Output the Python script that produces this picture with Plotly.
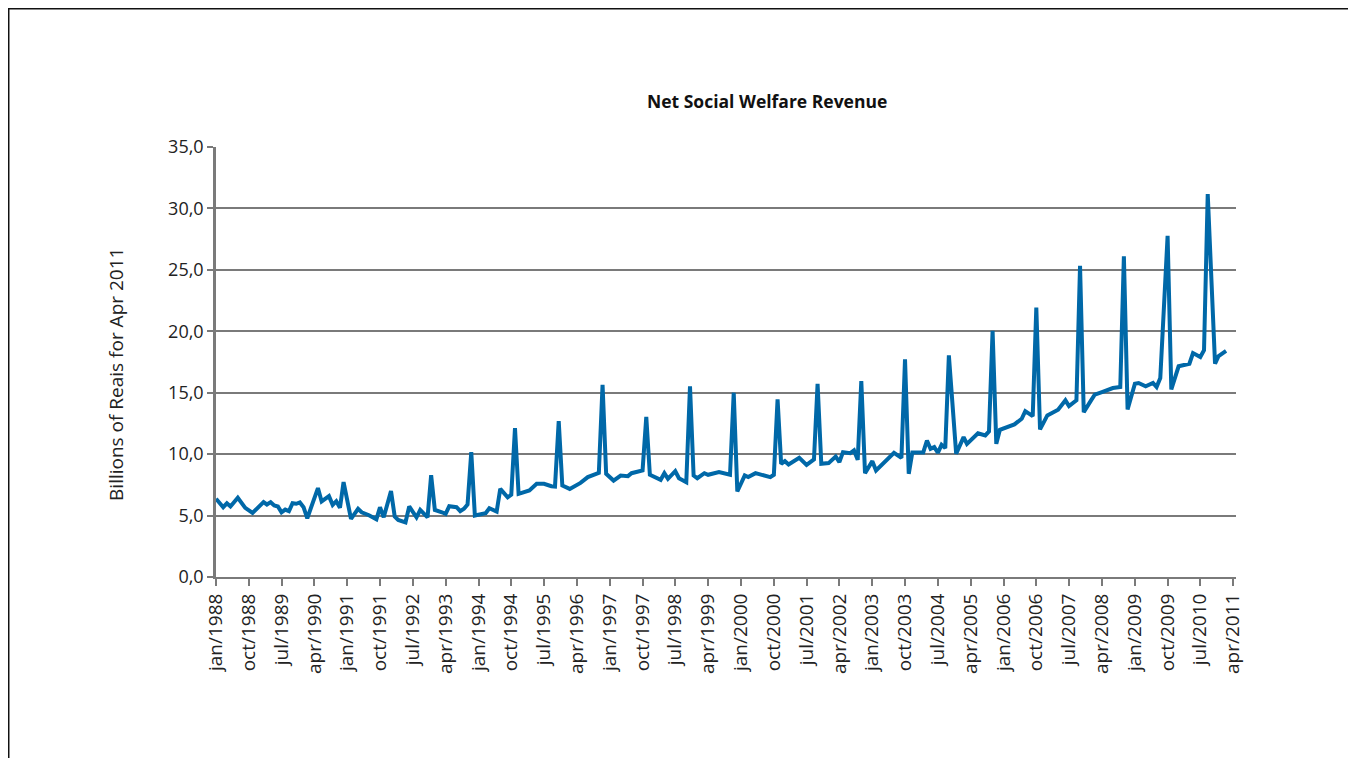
import plotly.graph_objects as go

# Monthly points (vertices)
months = [
    "1988-01", "1988-03", "1988-04", "1988-05", "1988-07", "1988-09", "1988-11",
    "1989-02", "1989-03", "1989-04", "1989-05", "1989-06", "1989-07", "1989-08",
    "1989-09", "1989-10", "1989-11", "1989-12",
    "1990-01", "1990-02", "1990-05", "1990-06", "1990-08", "1990-09", "1990-10",
    "1990-11", "1990-12",
    "1991-02", "1991-04", "1991-05", "1991-07", "1991-09", "1991-10", "1991-11",
    "1992-01", "1992-02", "1992-03", "1992-05", "1992-06", "1992-07", "1992-08",
    "1992-09", "1992-10", "1992-11", "1992-12",
    "1993-01", "1993-03", "1993-04", "1993-05", "1993-07", "1993-08", "1993-09",
    "1993-10", "1993-11", "1993-12",
    "1994-03", "1994-04", "1994-06", "1994-07", "1994-09", "1994-10", "1994-11",
    "1994-12",
    "1995-03", "1995-05", "1995-07", "1995-09", "1995-10", "1995-11", "1995-12",
    "1996-02", "1996-05", "1996-07", "1996-09", "1996-10", "1996-11", "1996-12",
    "1997-02", "1997-04", "1997-06", "1997-07", "1997-10", "1997-11", "1997-12",
    "1998-03", "1998-04", "1998-05", "1998-07", "1998-08", "1998-10", "1998-11",
    "1998-12",
    "1999-01", "1999-03", "1999-04", "1999-07", "1999-10", "1999-11", "1999-12",
    "2000-02", "2000-03", "2000-05", "2000-07", "2000-09", "2000-10", "2000-11",
    "2000-12",
    "2001-01", "2001-02", "2001-05", "2001-07", "2001-09", "2001-10", "2001-11",
    "2002-01", "2002-03", "2002-04", "2002-05", "2002-07", "2002-08", "2002-09",
    "2002-10", "2002-11",
    "2003-01", "2003-02", "2003-07", "2003-09", "2003-10", "2003-11", "2003-12",
    "2004-03", "2004-04", "2004-05", "2004-06", "2004-07", "2004-08", "2004-09",
    "2004-10", "2004-12",
    "2005-02", "2005-03", "2005-06", "2005-08", "2005-09", "2005-10", "2005-11",
    "2005-12",
    "2006-04", "2006-06", "2006-07", "2006-09", "2006-10", "2006-11",
    "2007-01", "2007-04", "2007-06", "2007-07", "2007-09", "2007-10", "2007-11",
    "2008-01", "2008-02", "2008-04", "2008-07", "2008-09", "2008-10", "2008-11",
    "2009-01", "2009-02", "2009-04", "2009-06", "2009-07", "2009-08", "2009-10",
    "2009-11",
    "2010-01", "2010-04", "2010-05", "2010-07", "2010-08", "2010-09", "2010-11",
    "2010-12",
    "2011-02",
]

revenue = [
    6.37, 5.68, 6.00, 5.74, 6.45, 5.63, 5.22,
    6.09, 5.90, 6.09, 5.82, 5.74, 5.27, 5.49,
    5.36, 6.00, 5.96, 6.07,
    5.68, 4.78, 7.24, 6.15, 6.58, 5.87, 6.17,
    5.63, 7.73,
    4.73, 5.55, 5.27, 5.03, 4.70, 5.68, 4.86,
    6.99, 4.92, 4.64, 4.45, 5.74, 5.27, 4.86,
    5.46, 5.19, 4.86, 8.28,
    5.46, 5.27, 5.14, 5.76, 5.68, 5.36, 5.55,
    5.90, 10.16, 5.00,
    5.19, 5.60, 5.33, 7.17, 6.49, 6.70, 12.12,
    6.77,
    7.04, 7.58, 7.58, 7.39, 7.36, 12.69, 7.45,
    7.17, 7.66, 8.13, 8.32, 8.48, 15.65, 8.40,
    7.85, 8.26, 8.21, 8.45, 8.67, 13.04, 8.32,
    7.91, 8.45, 7.99, 8.61, 8.04, 7.72, 15.52,
    8.26,
    8.04, 8.45, 8.32, 8.55, 8.32, 15.00, 6.96,
    8.26, 8.13, 8.45, 8.26, 8.13, 8.32, 14.46,
    9.21,
    9.43, 9.16, 9.70, 9.13, 9.57, 15.73, 9.21,
    9.27, 9.81, 9.35, 10.16, 10.08, 10.30, 9.54,
    15.95, 8.45,
    9.43, 8.67, 10.11, 9.70, 17.72, 8.40, 10.14,
    10.14, 11.11, 10.43, 10.57, 10.11, 10.76, 10.49,
    18.04, 10.03,
    11.39, 10.84, 11.70, 11.52, 11.85, 20.03, 10.84,
    11.98,
    12.42, 12.88, 13.50, 13.10, 21.93, 12.01,
    13.15, 13.61, 14.38, 13.91, 14.38, 25.33, 13.42,
    14.38, 14.84, 15.05, 15.38, 15.46, 26.11, 13.64,
    15.73, 15.79, 15.52, 15.79, 15.46, 16.20, 27.77,
    15.27,
    17.15, 17.36, 18.23, 17.91, 18.45, 31.17, 17.36,
    17.99,
    18.40,
]

tick_labels = [
    "jan/1988", "oct/1988", "jul/1989", "apr/1990", "jan/1991", "oct/1991",
    "jul/1992", "apr/1993", "jan/1994", "oct/1994", "jul/1995", "apr/1996",
    "jan/1997", "oct/1997", "jul/1998", "apr/1999", "jan/2000", "oct/2000",
    "jul/2001", "apr/2002", "jan/2003", "oct/2003", "jul/2004", "apr/2005",
    "jan/2006", "oct/2006", "jul/2007", "apr/2008", "jan/2009", "oct/2009",
    "jul/2010", "apr/2011",
]

y_ticks = [0, 5, 10, 15, 20, 25, 30, 35]

month_num = {"jan": "01", "apr": "04", "jul": "07", "oct": "10"}
tick_vals = [lab.split("/")[1] + "-" + month_num[lab.split("/")[0]] for lab in tick_labels]

FONT = "Open Sans"
GRID = "#7a7a7a"
LINE = "#0068A8"

fig = go.Figure()
fig.add_trace(go.Scatter(
    x=months, y=revenue, mode="lines",
    line=dict(color=LINE, width=4),
    showlegend=False, hoverinfo="x+y",
))

fig.update_layout(
    width=1356, height=758,
    paper_bgcolor="white", plot_bgcolor="white",
    margin=dict(l=208, r=128, t=139, b=189, pad=0),
    separators=",.",
    font=dict(family=FONT, color="#222222"),
    showlegend=False,
    annotations=[
        dict(text="<b>Net Social Welfare Revenue</b>", xref="paper", yref="paper",
             x=0.540, y=1.108, xanchor="center", yanchor="middle",
             showarrow=False, font=dict(family=FONT, size=17.5, color="#111111")),
        dict(text="Billions of Reais for Apr 2011", xref="paper", yref="paper",
             x=-0.098, y=0.47, xanchor="center", yanchor="middle", textangle=-90,
             showarrow=False, font=dict(family=FONT, size=19, color="#222222")),
    ],
    shapes=[
        dict(type="rect", xref="paper", yref="paper",
             x0=-0.2032, x1=1.1108, y0=-0.6, y1=1.3215,
             line=dict(color="#111111", width=1.5), fillcolor="rgba(0,0,0,0)", layer="below"),
    ],
)

fig.update_xaxes(
    type="date",
    range=["1988-01-01", "2011-04-25"],
    tickmode="array", tickvals=tick_vals, ticktext=tick_labels,
    tickangle=-90, tickfont=dict(family=FONT, size=19, color="#222222"),
    ticks="outside", ticklen=7, tickwidth=1.5, tickcolor=GRID,
    showline=True, linecolor=GRID, linewidth=2,
    showgrid=False, zeroline=False,
)

fig.update_yaxes(
    range=[0, 35],
    tickmode="array", tickvals=y_ticks, tickformat=".1f",
    tickfont=dict(family=FONT, size=18, color="#222222"),
    ticks="outside", ticklen=6, tickwidth=1.5, tickcolor=GRID,
    showline=True, linecolor=GRID, linewidth=2.5,
    showgrid=True, gridcolor=GRID, gridwidth=1.5,
    zeroline=False,
)

fig.write_html("out.html")
